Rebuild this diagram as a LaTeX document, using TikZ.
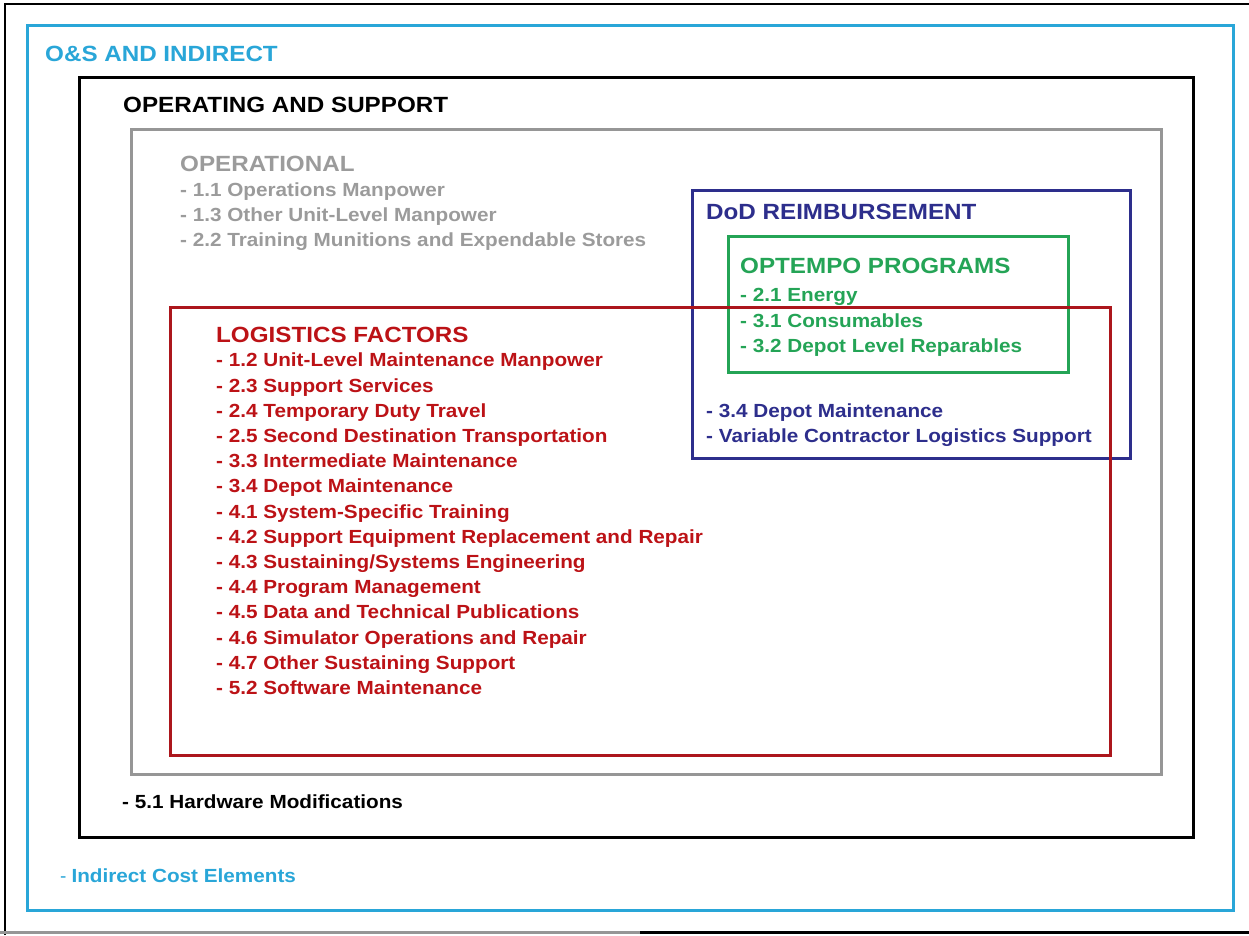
\documentclass[tikz,border=0pt]{standalone}
\usepackage{fontspec}
\setmainfont{Liberation Sans}
\definecolor{cyanC}{RGB}{41,166,216}
\definecolor{grayBox}{RGB}{150,150,150}
\definecolor{grayTxt}{RGB}{155,155,155}
\definecolor{redBox}{RGB}{172,22,28}
\definecolor{redTxt}{RGB}{188,18,22}
\definecolor{navyC}{RGB}{45,46,140}
\definecolor{greenC}{RGB}{36,164,86}
\newcommand{\sxi}[1]{\scalebox{1.09}[1]{#1}}
\newcommand{\sxt}[1]{\scalebox{1.1}[1]{#1}}
\tikzset{
  frame/.style={line width=3pt},
  item/.style={anchor=base west, inner sep=0pt, font=\fontsize{19}{22}\selectfont\bfseries},
  heading/.style={anchor=base west, inner sep=0pt, font=\fontsize{22}{26}\selectfont\bfseries},
}
\begin{document}
\begin{tikzpicture}[x=1pt,y=-1pt]
\useasboundingbox (0,0) rectangle (1249,935);
\fill[white] (0,0) rectangle (1249,935);
% outer page frame
\draw[line width=2.5pt] (5,935) -- (5,4) -- (1249,4);
\draw[line width=3pt, grayBox] (0,932) -- (640,932);
\draw[line width=3pt] (640,932) -- (1249,932);
% boxes
\draw[frame, cyanC] (27,25) rectangle (1233,910);
\draw[frame, black] (79,77) rectangle (1193,837);
\draw[frame, grayBox] (131,129) rectangle (1161,774);
\draw[frame, navyC] (692,190) rectangle (1130,458);
\draw[frame, greenC] (728,236) rectangle (1068,372);
\draw[frame, redBox] (170,307) rectangle (1110,755);
% titles
\node[heading, text=cyanC] (os) at (45,61) {\sxt{O\&S AND INDIRECT}};
\node[heading, text=black] (ops) at (123,112) {\sxt{OPERATING AND SUPPORT}};
\node[heading, text=grayTxt] (opl) at (180,171) {\sxt{OPERATIONAL}};
\node[heading, text=navyC] (dod) at (706,219) {\sxt{DoD REIMBURSEMENT}};
\node[heading, text=greenC] (opt) at (740,273) {\sxt{OPTEMPO PROGRAMS}};
\node[heading, text=redTxt] (log) at (216,342) {\sxt{LOGISTICS FACTORS}};
% gray items
\foreach \t [count=\i] in {- 1.1 Operations Manpower, - 1.3 Other Unit-Level Manpower, - 2.2 Training Munitions and Expendable Stores}
  \node[item, text=grayTxt] (g\i) at (180,196.8+25*\i-25) {\sxi{\t}};
% green items
\foreach \t [count=\i] in {- 2.1 Energy, - 3.1 Consumables, - 3.2 Depot Level Reparables}
  \node[item, text=greenC] (e\i) at (740,301.8+25.5*\i-25.5) {\sxi{\t}};
% navy items
\node[item, text=navyC] (n1) at (706,417.8) {\sxi{- 3.4 Depot Maintenance}};
\node[item, text=navyC] (n2) at (706,442.8) {\sxi{- Variable Contractor Logistics Support}};
% red items
\foreach \t [count=\i] in {- 1.2 Unit-Level Maintenance Manpower, - 2.3 Support Services, - 2.4 Temporary Duty Travel, - 2.5 Second Destination Transportation, - 3.3 Intermediate Maintenance, - 3.4 Depot Maintenance, - 4.1 System-Specific Training, - 4.2 Support Equipment Replacement and Repair, - 4.3 Sustaining/Systems Engineering, - 4.4 Program Management, - 4.5 Data and Technical Publications, - 4.6 Simulator Operations and Repair, - 4.7 Other Sustaining Support, - 5.2 Software Maintenance}
  \node[item, text=redTxt] (r\i) at (216,366.8+25.2*\i-25.2) {\sxi{\t}};
% other items
\node[item, text=black] (hw) at (122,808.8) {\sxi{- 5.1 Hardware Modifications}};
\node[item, text=cyanC] (ind) at (60,882.8) {{\mdseries -}\hspace{5pt}\sxi{Indirect Cost Elements}};
\end{tikzpicture}
\end{document}
